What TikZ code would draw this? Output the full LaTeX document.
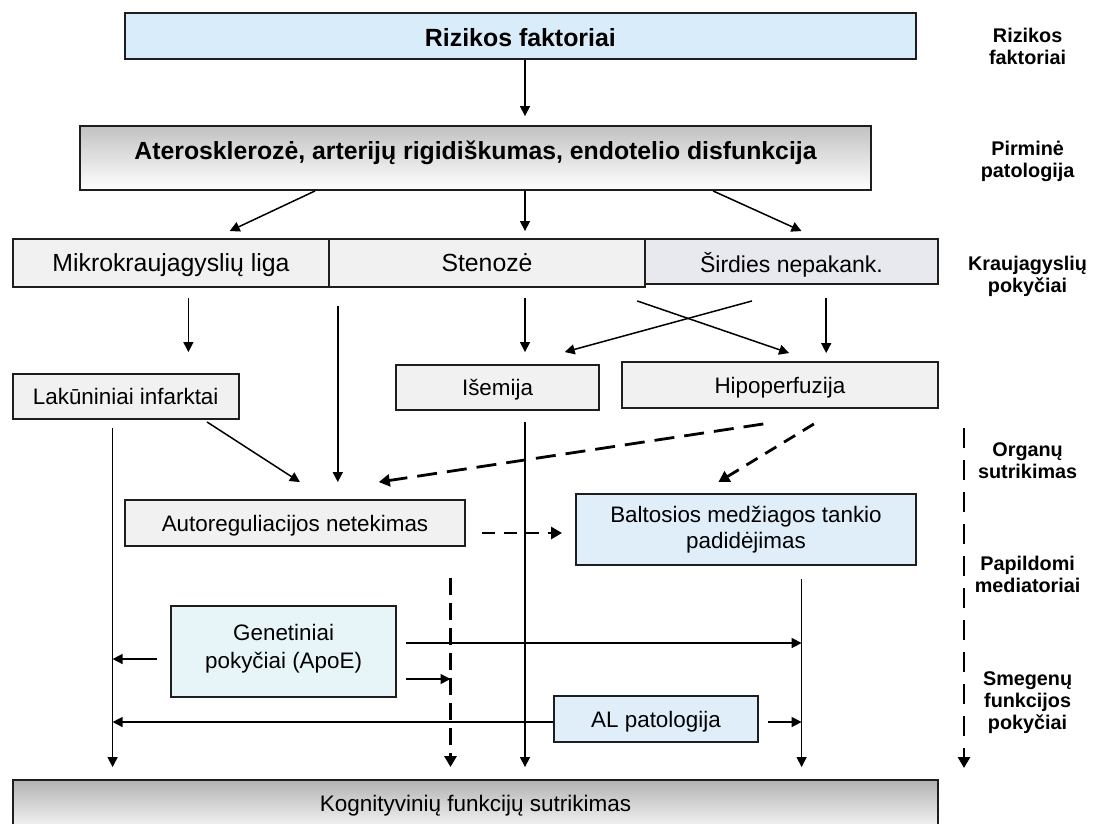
\documentclass[tikz,border=0pt]{standalone}
\usepackage{fontspec}
\setmainfont{Liberation Sans}
\usetikzlibrary{arrows.meta,calc}
\definecolor{bordercol}{HTML}{1E1E1E}
\definecolor{blueA}{HTML}{D9ECFA}
\definecolor{blueB}{HTML}{E0EEFA}
\definecolor{cyanA}{HTML}{E8F5F8}
\definecolor{grayA}{HTML}{F1F1F1}
\definecolor{grayB}{HTML}{E8E8EF}
\begin{document}
\begin{tikzpicture}[x=1pt,y=-1pt,
  box/.style={draw=bordercol, line width=1.9pt, rectangle, inner sep=0pt, align=center,
    font=\fontsize{22.4}{26}\selectfont},
  one/.style={text height=21pt, text depth=4.9pt},
  bigbox/.style={box, font=\fontsize{24.8}{29}\selectfont, text height=23.2pt, text depth=5.5pt},
  boldbox/.style={box, font=\bfseries\fontsize{24.8}{29}\selectfont},
  sidelbl/.style={align=center, inner sep=0pt, font=\bfseries\fontsize{19.8}{22}\selectfont},
  arr/.style={line width=1.5pt, draw=black, -{Triangle[length=10pt,width=10pt]}},
  darr/.style={line width=2.8pt, draw=black, dash pattern=on 20pt off 10pt, -{Triangle[length=11pt,width=12pt]}},
  sdarr/.style={line width=2.8pt, draw=black, dash pattern=on 13pt off 9pt, -{Triangle[length=11pt,width=12pt]}},
  vdarr/.style={line width=2.8pt, draw=black, dash pattern=on 17pt off 8pt, -{Triangle[length=11pt,width=12pt]}}
]
\clip (0,0) rectangle (1094,823);
\fill[white] (0,0) rectangle (1094,823);

% column coordinates
\coordinate (cA) at (112.6,0);
\coordinate (cB) at (188.4,0);
\coordinate (cC) at (337.8,0);
\coordinate (cD) at (450.5,0);
\coordinate (cE) at (525,0);
\coordinate (cF) at (801.6,0);
\coordinate (cG) at (826.2,0);

% boxes
\node[box, fill=blueA, minimum width=790.4pt, minimum height=46pt,
  font=\bfseries\fontsize{24.9}{29}\selectfont, text height=26.3pt, text depth=5.5pt] (rf) at (520.4,36) {Rizikos faktoriai};
\node[boldbox, top color=black!24, bottom color=white, minimum width=791pt, minimum height=64pt,
  text height=22pt, text depth=18.2pt] (ater) at (475.5,158)
  {Aterosklerozė, arterijų rigidiškumas, endotelio disfunkcija};

\node[bigbox, fill=grayA, minimum width=316pt, minimum height=48pt] (mikro) at (171,263) {Mikrokraujagyslių liga};
\node[bigbox, fill=grayA, minimum width=316pt, minimum height=48pt] (sten) at (487,263) {Stenozė};
\node[bigbox, fill=grayB, minimum width=293pt, minimum height=45pt,
  font=\fontsize{23}{28}\selectfont, text height=26.4pt, text depth=5pt] (sird) at (791.5,261.5) {Širdies nepakank.};

\node[box, one, fill=grayA, minimum width=226.3pt, minimum height=45pt] (lak) at (125.7,396.5) {Lakūniniai infarktai};
\node[box, one, fill=grayA, minimum width=203.8pt, minimum height=45pt] (ise) at (497.5,387.5) {Išemija};
\node[box, one, fill=grayA, minimum width=316.6pt, minimum height=46pt] (hip) at (779.9,385) {Hipoperfuzija};

\node[box, one, fill=grayA, minimum width=339.5pt, minimum height=46pt] (auto) at (295,523) {Autoreguliacijos netekimas};
\node[box, fill=blueB, minimum width=339.2pt, minimum height=71pt] (balt) at (746,529.5)
  {Baltosios medžiagos tankio\\padidėjimas};

\node[box, fill=cyanA, minimum width=225.6pt, minimum height=91pt] (gen) at (283.6,651.5)
  {Genetiniai\\[2pt]pokyčiai (ApoE)\rule[-11pt]{0pt}{1pt}};
\node[box, one, fill=blueB, minimum width=203.9pt, minimum height=46pt] (al) at (656,719) {AL patologija};

\node[box, top color=black!30, bottom color=black!3, minimum width=925.2pt, minimum height=50pt,
  font=\fontsize{22.5}{27}\selectfont, text height=18.1pt, text depth=5pt] (kog) at (475.6,805) {Kognityvinių funkcijų sutrikimas};

% side labels
\node[sidelbl] (l1) at (1027.6,46) {Rizikos\\faktoriai};
\node[sidelbl] (l2) at (1027.6,161) {Pirminė\\patologija};
\node[sidelbl] (l3) at (1027.6,276) {Kraujagyslių\\pokyčiai};
\node[sidelbl] (l4) at (1027.6,461) {Organų\\sutrikimas};
\node[sidelbl] (l5) at (1027.6,574) {Papildomi\\mediatoriai};
\node[sidelbl] (l6) at (1027.6,703) {Smegenų\\funkcijos\\pokyčiai};

\coordinate (d1) at (964,428);
\coordinate (d2) at (964,768);
\draw[line width=2.8pt, dash pattern=on 20pt off 12pt, -{Triangle[length=11pt,width=12pt]}] (d1) -- (d2);

% arrows from top
\draw[arr, shorten >=9pt] (rf.south -| cE) -- (ater.north -| cE);
\draw[arr] ($(ater.south)+(-160.5,0)$) -- ($(mikro.north)+(58.7,-7)$);
\draw[arr, shorten >=7pt] (ater.south -| cE) -- (sten.north -| cE);
\draw[arr] ($(ater.south)+(237.6,0)$) -- ($(sird.north)+(10,-7)$);

% from row of three
\draw[arr, shorten <=10pt, shorten >=21pt] (mikro.south -| cB) -- (lak.north -| cB);
\draw[arr, shorten <=18pt, shorten >=17pt] (sten.south -| cC) -- (auto.north -| cC);
\draw[arr, shorten <=10pt, shorten >=12pt] (sten.south -| cE) -- (ise.north -| cE);
\draw[arr] ($(sten.south)+(150.2,13)$) -- ($(hip.north)+(9.2,-8)$);
\draw[arr] ($(sird.south)+(-39.5,16)$) -- ($(ise.north)+(67.2,-12)$);
\draw[arr, shorten <=13pt, shorten >=8pt] (sird.south -| cG) -- (hip.north -| cG);

% to autoregulation / white matter
\draw[arr] ($(lak.south)+(81.3,2)$) -- ($(auto.north)+(4.9,-17)$);
\draw[darr] ($(hip.south)+(-16.6,15)$) -- ($(auto.north)+(83.8,-17)$);
\draw[sdarr] ($(hip.south)+(34,15)$) -- ($(balt.north)+(-27.6,-11)$);
\draw[sdarr] ($(auto.east)+(15.8,10)$) -- ($(balt.west)+(-13.4,3.5)$);

% long verticals to cognitive box
\draw[arr, shorten <=8pt, shorten >=12pt] (lak.south -| cA) -- (kog.north -| cA);
\draw[arr, shorten <=11pt, shorten >=12pt] (ise.south -| cE) -- (kog.north -| cE);
\draw[vdarr, shorten <=31pt, shorten >=12pt] (auto.south -| cD) -- (kog.north -| cD);
\draw[arr, shorten <=13pt, shorten >=12pt] (balt.south -| cF) -- (kog.north -| cF);

% mediators
\draw[arr] ($(gen.west)+(-13,7.5)$) coordinate (g1) -- (g1 -| cA);
\draw[arr] ($(gen.east)+(8.7,-8.5)$) coordinate (g2) -- (g2 -| cF);
\draw[arr] ($(gen.east)+(8.7,27.5)$) coordinate (g3) -- (g3 -| cD);
\draw[arr] ($(al.west)+(0,3)$) coordinate (a1) -- (a1 -| cA);
\draw[arr] ($(al.east)+(9.2,3)$) coordinate (a2) -- (a2 -| cF);
\end{tikzpicture}
\end{document}
